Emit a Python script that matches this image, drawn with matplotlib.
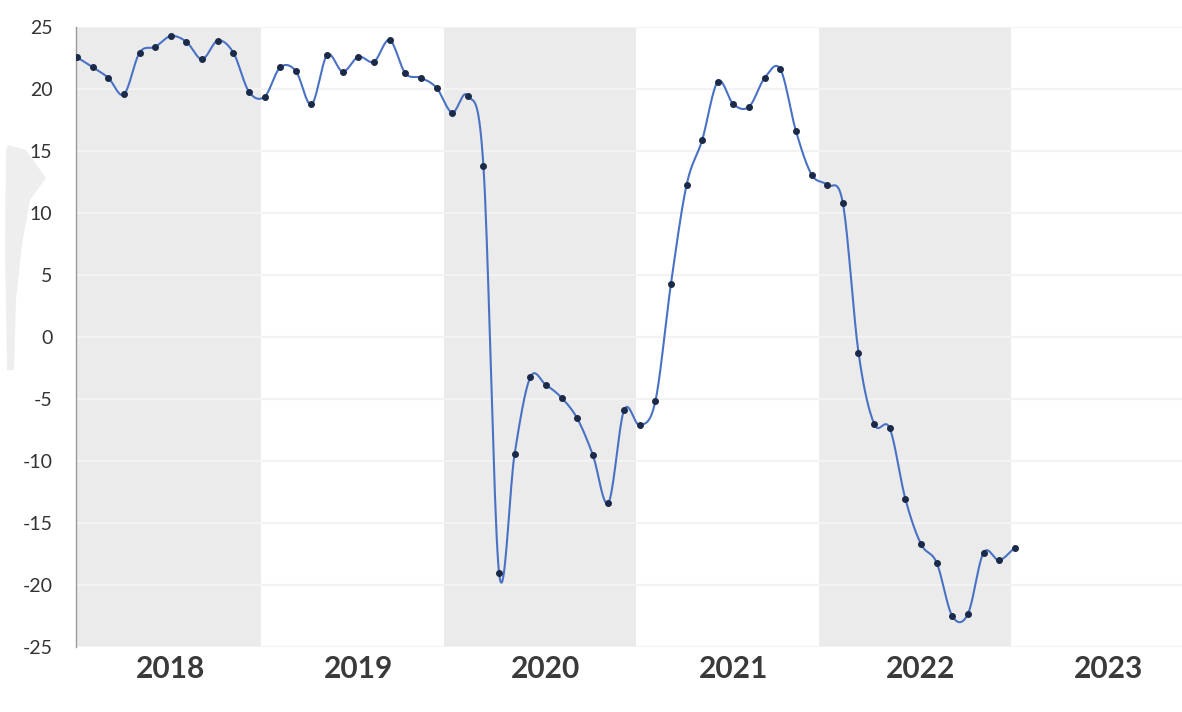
import numpy as np
import matplotlib
matplotlib.use("Agg")
import matplotlib.pyplot as plt
from matplotlib.patches import Polygon

# monthly values, Jan 2018 .. Jan 2023
values = [22.56, 21.75, 20.9, 19.57, 22.93, 23.4, 24.27, 23.8, 22.4, 23.9, 22.93, 19.78,
          19.38, 21.75, 21.45, 18.76, 22.74, 21.4, 22.6, 22.2, 23.95, 21.27, 20.9, 20.1,
          18.1, 19.44, 13.8, -19.0, -9.4, -3.25, -3.87, -4.9, -6.56, -9.5, -13.36, -5.9,
          -7.1, -5.2, 4.3, 12.26, 15.9, 20.6, 18.76, 18.57, 20.9, 21.6, 16.6, 13.1,
          12.26, 10.8, -1.25, -7.0, -7.37, -13.06, -16.7, -18.2, -22.5, -22.34, -17.4, -18.0,
          -17.0]
years = ["2018", "2019", "2020", "2021", "2022", "2023"]
shaded_years = ["2018", "2020", "2022"]
y_ticks = [25, 20, 15, 10, 5, 0, -5, -10, -15, -20, -25]

x = np.arange(len(values))
y = np.array(values)

# catmull-rom smoothing like the spreadsheet "smoothed line"
yp = np.concatenate([[2 * y[0] - y[1]], y, [2 * y[-1] - y[-2]]])
xs, ys = [], []
t = np.linspace(0, 1, 20)
for i in range(len(y) - 1):
    p0, p1, p2, p3 = yp[i], yp[i + 1], yp[i + 2], yp[i + 3]
    m1 = (p2 - p0) / 2
    m2 = (p3 - p1) / 2
    h00 = 2 * t**3 - 3 * t**2 + 1
    h10 = t**3 - 2 * t**2 + t
    h01 = -2 * t**3 + 3 * t**2
    h11 = t**3 - t**2
    xs.append(x[i] + t)
    ys.append(h00 * p1 + h10 * m1 + h01 * p2 + h11 * m2)
xs = np.concatenate(xs)
ys = np.concatenate(ys)

fig = plt.figure(figsize=(11.82, 7.12), dpi=100)

# faint gray smudge at the left edge of the scan (behind everything)
pts = [(8, 145), (26, 150), (46, 178), (30, 200), (22, 245), (16, 300), (14, 370),
       (7, 370), (5, 250), (6, 150)]
fig.patches.append(Polygon([(px / 1182, 1 - py / 712) for px, py in pts],
                           closed=True, transform=fig.transFigure,
                           facecolor="#eeeeee", edgecolor="none", zorder=-5))

ax = fig.add_axes([75.5 / 1182, 1 - 647 / 712, 1 - 75.5 / 1182, (647 - 27) / 712])
ax.set_zorder(1)
ax.patch.set_alpha(0)

# shaded years
for yr in shaded_years:
    start = 12 * (int(yr) - 2018)
    ax.axvspan(start - 0.5, start + 11.75, ymin=0, ymax=1.0, color="#ebebeb", lw=0, zorder=0)

for v in y_ticks:
    ax.axhline(v, color="#f3f3f3", lw=1.6, zorder=1)

ax.plot(xs, ys, color="#4a72c4", lw=1.5, zorder=3)
ax.plot(x, y, "o", color="#1b2a48", ms=4, zorder=4)

ax.set_xlim(-0.1, 70.7)
ax.set_ylim(-25, 25)

ax.set_yticks(y_ticks)
ax.set_yticklabels([str(v) for v in y_ticks], family="Lato", fontsize=14, color="#333333")
ax.set_xticks([12 * i + 6 for i in range(len(years))])
ax.set_xticklabels(years, family="Lato", fontweight="bold", fontsize=21.5, color="#3a3a3a")
ax.tick_params(axis="y", length=0, pad=16.5)
ax.tick_params(axis="x", length=0, pad=6)

for s in ["top", "right", "bottom"]:
    ax.spines[s].set_visible(False)
ax.spines["left"].set_color("#9a9a9a")
ax.spines["left"].set_linewidth(1.0)

fig.savefig("out.png", dpi=100)
